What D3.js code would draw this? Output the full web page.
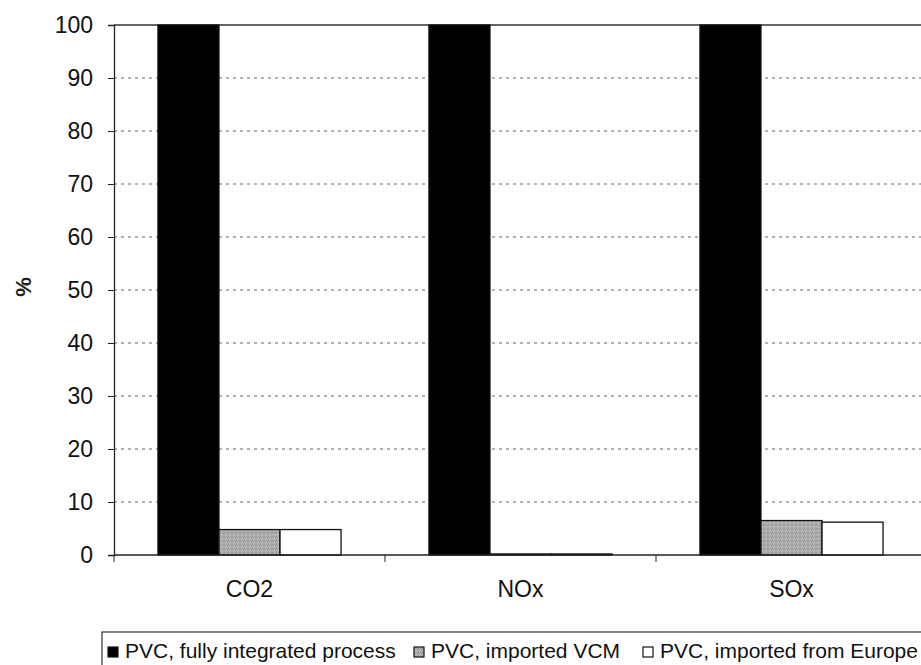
<!DOCTYPE html>
<html>
<head>
<meta charset="utf-8">
<script src="https://cdn.jsdelivr.net/npm/d3@7"></script>
<style>
  body { margin: 0; background: #fff; }
  svg { display: block; font-family: "Liberation Sans", Arial, sans-serif; }
</style>
</head>
<body>
<div id="chart"></div>
<script>
// data
const categories = ["CO2", "NOx", "SOx"];
const seriesNames = ["PVC, fully integrated process", "PVC, imported VCM", "PVC, imported from Europe"];
const fullyIntegrated = [100, 100, 100];
const importedVCM = [4.8, 0.2, 6.5];
const importedEurope = [4.8, 0.2, 6.2];
const yTicks = [0, 10, 20, 30, 40, 50, 60, 70, 80, 90, 100];

const series = [fullyIntegrated, importedVCM, importedEurope];

const W = 921, H = 665;
const margin = {top: 25, left: 114, bottom: 110};
const plotRight = 927; // plot runs slightly past the window edge
const height = H - margin.top - margin.bottom;

const svg = d3.select("#chart").append("svg")
    .attr("width", W)
    .attr("height", H);

// speckled grey fill
const defs = svg.append("defs");
const pat = defs.append("pattern")
    .attr("id", "speckle")
    .attr("width", 4).attr("height", 4)
    .attr("patternUnits", "userSpaceOnUse");
pat.append("rect").attr("width", 4).attr("height", 4).attr("fill", "#ababab");
pat.append("rect").attr("x", 0).attr("y", 0).attr("width", 1).attr("height", 1).attr("fill", "#8c8c8c");
pat.append("rect").attr("x", 2).attr("y", 2).attr("width", 1).attr("height", 1).attr("fill", "#c4c4c4");
pat.append("rect").attr("x", 3).attr("y", 1).attr("width", 1).attr("height", 1).attr("fill", "#959595");
pat.append("rect").attr("x", 1).attr("y", 3).attr("width", 1).attr("height", 1).attr("fill", "#bdbdbd");
const fills = ["#000", "url(#speckle)", "#fff"];

const x = d3.scaleBand()
    .domain(categories)
    .range([margin.left, plotRight])
    .paddingInner(0)
    .paddingOuter(0);

const inner = d3.scaleBand()
    .domain(d3.range(series.length))
    .range([0, x.bandwidth()])
    .paddingOuter(0.72)
    .paddingInner(0);

const y = d3.scaleLinear()
    .domain([0, 100])
    .range([margin.top + height, margin.top]);

// gridlines
svg.append("g")
    .selectAll("line")
    .data(yTicks.filter(t => t > 0 && t < 100))
    .join("line")
    .attr("x1", margin.left)
    .attr("x2", plotRight)
    .attr("y1", d => y(d))
    .attr("y2", d => y(d))
    .attr("stroke", "#666")
    .attr("stroke-width", 1)
    .attr("stroke-dasharray", "3,4");

// top border
svg.append("line")
    .attr("x1", margin.left).attr("x2", plotRight)
    .attr("y1", y(100)).attr("y2", y(100))
    .attr("stroke", "#333").attr("stroke-width", 1.5);

// bars
categories.forEach(function(c, ci) {
    series.forEach(function(s, si) {
        svg.append("rect")
            .attr("x", x(c) + inner(si))
            .attr("y", y(s[ci]))
            .attr("width", inner.bandwidth())
            .attr("height", y(0) - y(s[ci]))
            .attr("fill", fills[si])
            .attr("stroke", "#111")
            .attr("stroke-width", 1.3);
    });
});

// y axis
const yAxis = svg.append("g")
    .attr("transform", "translate(" + margin.left + ",0)")
    .call(d3.axisLeft(y).tickValues(yTicks).tickSize(6).tickPadding(15));
yAxis.select(".domain").attr("stroke", "#222").attr("stroke-width", 1.3);
yAxis.selectAll(".tick line").attr("stroke", "#222");
yAxis.selectAll("text")
    .attr("font-size", 23)
    .attr("fill", "#111")
    .attr("font-family", "Liberation Sans, Arial, sans-serif");

// x axis
const xAxis = svg.append("g")
    .attr("transform", "translate(0," + y(0) + ")");
xAxis.append("line")
    .attr("x1", margin.left).attr("x2", plotRight)
    .attr("stroke", "#222").attr("stroke-width", 1.3);
xAxis.selectAll(".sep")
    .data(categories)
    .join("line")
    .attr("class", "sep")
    .attr("x1", d => x(d)).attr("x2", d => x(d))
    .attr("y1", 0).attr("y2", 7)
    .attr("stroke", "#222");
xAxis.selectAll(".lab")
    .data(categories)
    .join("text")
    .attr("class", "lab")
    .attr("x", d => x(d) + x.bandwidth() / 2)
    .attr("y", 42)
    .attr("text-anchor", "middle")
    .attr("font-size", 23)
    .attr("fill", "#111")
    .text(d => d);

// y label
svg.append("text")
    .attr("transform", "translate(31,287) rotate(-90)")
    .attr("text-anchor", "middle")
    .attr("font-size", 22)
    .attr("font-weight", "bold")
    .attr("fill", "#222")
    .text("%");

// legend
const lg = svg.append("g").attr("transform", "translate(102,632)");
lg.append("rect")
    .attr("x", 0).attr("y", 0)
    .attr("width", 860).attr("height", 45)
    .attr("fill", "#fff")
    .attr("stroke", "#333").attr("stroke-width", 1.2);

const legendX = [6, 312, 541];
seriesNames.forEach(function(name, i) {
    const g = lg.append("g").attr("transform", "translate(" + legendX[i] + ",0)");
    g.append("rect")
        .attr("x", 0).attr("y", 15)
        .attr("width", 10).attr("height", 10)
        .attr("fill", fills[i])
        .attr("stroke", "#111").attr("stroke-width", 1.2);
    g.append("text")
        .attr("x", 17).attr("y", 26)
        .attr("font-size", 21)
        .attr("fill", "#111")
        .text(name);
});
</script>
</body>
</html>
